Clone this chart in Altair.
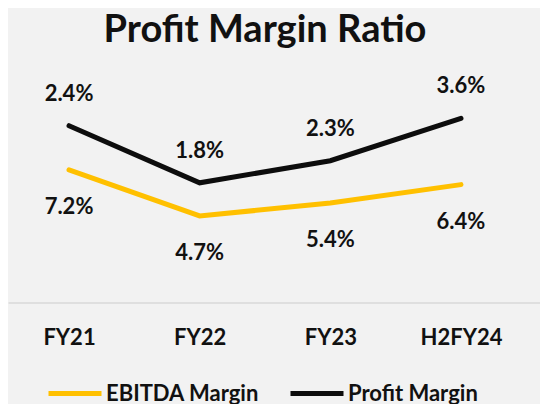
import altair as alt
import pandas as pd

periods = ["FY21", "FY22", "FY23", "H2FY24"]
ebitda_margin = [7.2, 4.7, 5.4, 6.4]
profit_margin = [2.4, 1.8, 2.3, 3.6]
series_names = ["EBITDA Margin", "Profit Margin"]
series_colors = ["#FFC000", "#0D0D0D"]

rows = []
for i, p in enumerate(periods):
    rows.append({"period": p, "series": series_names[0], "ord": 0,
                 "value": ebitda_margin[i], "label": f"{ebitda_margin[i]:.1f}%"})
    rows.append({"period": p, "series": series_names[1], "ord": 1,
                 "value": profit_margin[i], "label": f"{profit_margin[i]:.1f}%"})
df = pd.DataFrame(rows)

FONT = "Lato"
TXT = "#111111"

base = alt.Chart(df).transform_window(
    cum="sum(value)", groupby=["period"], sort=[alt.SortField("ord")], frame=[None, 0]
)

x_enc = alt.X(
    "period:N",
    sort=periods,
    scale=alt.Scale(type="point", padding=0.536, align=0.4357),
    axis=alt.Axis(
        title=None, labelAngle=0, ticks=False, tickSize=0, grid=False,
        domainColor="#D9D9D9", domainWidth=1.5,
        labelFont=FONT, labelFontSize=22, labelFontWeight="bold", labelColor=TXT,
        labelBaseline="middle", labelPadding=35,
    ),
)
y_enc = alt.Y("cum:Q", scale=alt.Scale(domain=[0, 12]), axis=None)

lines = base.mark_line(strokeWidth=5, strokeCap="round", strokeJoin="miter").encode(
    x=x_enc,
    y=y_enc,
    color=alt.Color(
        "series:N",
        scale=alt.Scale(domain=series_names, range=series_colors),
        legend=alt.Legend(
            title=None, orient="none", direction="horizontal",
            legendX=38, legendY=283, padding=0,
            symbolType="stroke", symbolSize=2809, symbolStrokeWidth=5,
            labelFont=FONT, labelFontSize=22, labelFontWeight="bold", labelColor=TXT,
            labelOffset=2, columnPadding=20,
        ),
    ),
    detail="series:N",
)

top_labels = base.transform_filter(alt.datum.series == series_names[1]).mark_text(
    font=FONT, fontSize=22, fontWeight="bold", color=TXT, dy=-32, baseline="middle"
).encode(x=alt.X("period:N", sort=periods), y="cum:Q", text="label:N")

bottom_labels = base.transform_filter(alt.datum.series == series_names[0]).mark_text(
    font=FONT, fontSize=22, fontWeight="bold", color=TXT, dy=37, baseline="middle"
).encode(x=alt.X("period:N", sort=periods), y="cum:Q", text="label:N")

chart = alt.layer(lines, top_labels, bottom_labels).properties(
    width=532,
    height=221,
    title=alt.TitleParams(
        "Profit Margin Ratio", font=FONT, fontSize=38, fontWeight="bold",
        color=TXT, anchor="middle", dx=-9, dy=39, baseline="alphabetic", offset=34.3,
    ),
    autosize=alt.AutoSizeParams(type="none"),
    padding={"left": 0, "top": 73.5, "right": 0, "bottom": 101.5},
    background="#F2F2F2",
).configure_view(stroke=None)

chart.save("out.html", embed_options={"renderer": "svg", "actions": False})
